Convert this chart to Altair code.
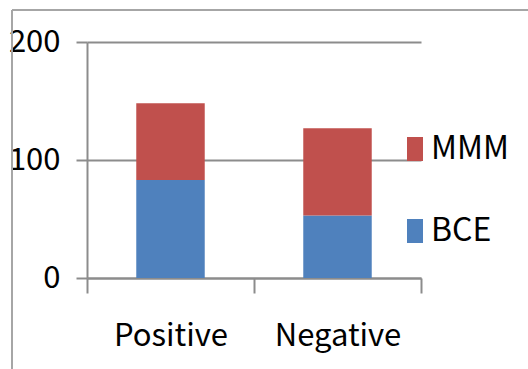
import altair as alt
import pandas as pd

categories = ["Positive", "Negative"]
bce_values = [83, 53]
mmm_values = [65, 74]
series_names = ["MMM", "BCE"]
series_colors = ["#C0504D", "#4F81BD"]
y_ticks = [0, 100, 200]

rows = []
for cat, b, m in zip(categories, bce_values, mmm_values):
    rows.append({"category": cat, "series": "BCE", "value": b, "stack_order": 0})
    rows.append({"category": cat, "series": "MMM", "value": m, "stack_order": 1})
df = pd.DataFrame(rows)

FONT = "Noto Sans CJK JP"
AXIS_GRAY = "#8c8c8c"

bars = alt.Chart(df).mark_bar(width=alt.RelativeBandSize(0.41)).encode(
    x=alt.X(
        "category:N",
        sort=categories,
        scale=alt.Scale(paddingInner=0, paddingOuter=0),
        axis=alt.Axis(
            title=None,
            labelAngle=0,
            labelFont=FONT,
            labelFontSize=31,
            labelColor="#000000",
            labelPadding=28,
            tickBand="extent",
            tickSize=15,
            tickColor=AXIS_GRAY,
            tickWidth=2,
            domainColor=AXIS_GRAY,
            domainWidth=2,
            grid=False,
        ),
    ),
    y=alt.Y(
        "value:Q",
        stack="zero",
        scale=alt.Scale(domain=[0, 200], nice=False),
        axis=alt.Axis(
            title=None,
            values=y_ticks,
            labelFont=FONT,
            labelFontSize=31,
            labelColor="#000000",
            labelPadding=16,
            tickSize=11,
            tickColor=AXIS_GRAY,
            tickWidth=2,
            domainColor=AXIS_GRAY,
            domainWidth=2,
            gridColor=AXIS_GRAY,
            gridWidth=2,
        ),
    ),
    color=alt.Color(
        "series:N",
        scale=alt.Scale(domain=series_names, range=series_colors),
        legend=alt.Legend(
            title=None,
            orient="none",
            legendX=312,
            legendY=91,
            padding=0,
            symbolType="M-0.667,-1H0.667V1H-0.667Z",
            symbolSize=576,
            symbolStrokeWidth=0,
            labelFont=FONT,
            labelFontSize=32,
            labelColor="#000000",
            labelOffset=0,
            rowPadding=50,
        ),
    ),
    order=alt.Order("stack_order:Q"),
)

# outer frame lines on the left and top
frame = alt.Chart(pd.DataFrame({"k": [0]})).mark_rule(
    color="#a6a6a6", strokeWidth=2, clip=False
)
frame_left = frame.encode(x=alt.value(-75), y=alt.value(-32), y2=alt.value(340))
frame_top = frame.encode(x=alt.value(-75), x2=alt.value(450), y=alt.value(-32))

chart = (
    alt.layer(frame_left, frame_top, bars)
    .properties(
        width=334,
        height=236,
        padding={"left": 87, "top": 42, "right": 107, "bottom": 91},
        autosize=alt.AutoSizeParams(type="none"),
        background="white",
    )
    .configure_view(stroke=None)
)

chart.save("out.html", embed_options={"renderer": "svg", "actions": False})
